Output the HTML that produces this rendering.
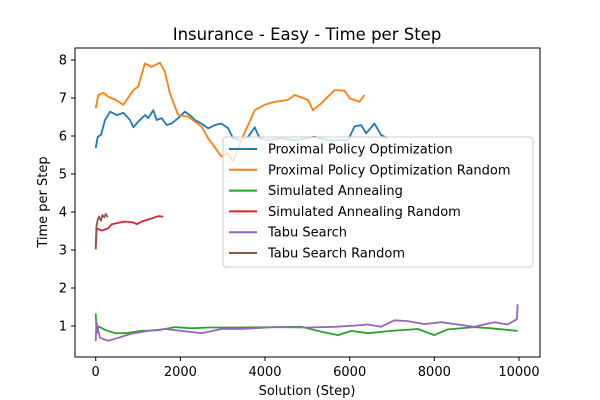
<!DOCTYPE html>
<html><head><meta charset="utf-8"><style>
body{margin:0;background:#fff}
svg{display:block;font-family:"DejaVu Sans","Liberation Sans",sans-serif}
</style></head><body>
<svg id="chart" width="600" height="400">
<rect width="600" height="400" fill="#fff"/>
<text x="307" y="40" font-size="16.5" text-anchor="middle">Insurance - Easy - Time per Step</text>
<g id="series"></g>
<rect x="75" y="48" width="465" height="309" fill="none" stroke="#000" stroke-width="1"/>
<g id="axes" font-size="13"></g>
<text x="307" y="395" font-size="13" text-anchor="middle">Solution (Step)</text>
<text x="0" y="0" font-size="13" text-anchor="middle" transform="translate(47,202) rotate(-90)">Time per Step</text>
<g id="legend" font-size="13"></g>
</svg>
<script>
const xTicks=[0,2000,4000,6000,8000,10000];
const yTicks=[1,2,3,4,5,6,7,8];
const seriesNames=["Proximal Policy Optimization","Proximal Policy Optimization Random","Simulated Annealing","Simulated Annealing Random","Tabu Search","Tabu Search Random"];
const colors=["#1f77b4","#ff7f0e","#2ca02c","#d62728","#9467bd","#8c564b"];
const ppoX=[0,47,126,220,338,495,652,810,890,1005,1163,1242,1360,1438,1556,1674,1792,1950,2107,2225,2343,2500,2657,2815,2970,3130,3245,3440,3600,3757,3875,4070,4385,4700,5170,5490,5960,6115,6270,6390,6585,6740,6900];
const ppoY=[5.68,5.98,6.03,6.42,6.64,6.55,6.61,6.42,6.23,6.38,6.55,6.47,6.68,6.42,6.47,6.29,6.33,6.47,6.64,6.55,6.42,6.33,6.20,6.29,6.33,6.20,5.94,5.89,5.98,6.23,5.94,5.89,5.94,5.89,5.98,5.89,5.89,6.25,6.29,6.07,6.33,6.03,5.94];
const ppoRX=[0,63,180,300,455,652,890,1005,1163,1320,1516,1634,1752,1950,2185,2500,2657,2970,3130,3245,3440,3757,3990,4230,4540,4700,5015,5130,5330,5645,5880,6000,6115,6230,6350];
const ppoRY=[6.73,7.08,7.14,7.03,6.96,6.82,7.21,7.30,7.91,7.82,7.93,7.69,7.12,6.55,6.51,6.25,5.94,5.46,5.54,5.32,5.89,6.68,6.82,6.90,6.95,7.08,6.95,6.68,6.86,7.21,7.19,6.99,6.95,6.90,7.08];
const saX=[0,24,63,220,455,690,1085,1477,1870,2264,2657,3440,4230,4860,5330,5725,6040,6430,6980,7610,8000,8315,8945,9340,9970];
const saY=[1.33,0.81,0.99,0.90,0.81,0.81,0.87,0.89,0.97,0.94,0.96,0.96,0.97,0.98,0.85,0.76,0.87,0.81,0.87,0.92,0.76,0.91,0.97,0.94,0.87];
const saRX=[0,24,141,298,377,690,890,970,1085,1320,1477,1595];
const saRY=[3.02,3.57,3.51,3.57,3.68,3.75,3.72,3.68,3.75,3.83,3.89,3.88];
const tsX=[0,16,102,298,534,848,1242,1634,2027,2500,2970,3440,4230,5015,5645,6115,6430,6740,7060,7370,7765,8160,8550,8945,9420,9730,9950,9970];
const tsY=[0.60,1.10,0.69,0.61,0.69,0.80,0.87,0.92,0.87,0.81,0.92,0.92,0.97,0.96,0.98,1.01,1.04,0.98,1.15,1.13,1.05,1.10,1.04,0.98,1.10,1.04,1.18,1.57];
const tsRX=[0,16,47,79,126,157,204,236,283];
const tsRY=[3.02,3.61,3.79,3.88,3.77,3.92,3.86,3.95,3.86];
const NS="http://www.w3.org/2000/svg";
const sx=v=>95.7+v*0.04233;
const sy=v=>326-(v-1)*38;
const seriesG=document.getElementById('series');
const data=[[ppoX,ppoY],[ppoRX,ppoRY],[saX,saY],[saRX,saRY],[tsX,tsY],[tsRX,tsRY]];
const names=["ppo-line","ppo-random-line","sa-line","sa-random-line","tabu-line","tabu-random-line"];
data.forEach((d,i)=>{
  const p=document.createElementNS(NS,'polyline');
  p.setAttribute('points',d[0].map((x,j)=>sx(x).toFixed(1)+','+sy(d[1][j]).toFixed(1)).join(' '));
  p.setAttribute('fill','none');p.setAttribute('stroke',colors[i]);p.setAttribute('stroke-width','1.8');
  p.setAttribute('stroke-linejoin','round');
  
  
  seriesG.appendChild(p);
});
const axes=document.getElementById('axes');
xTicks.forEach(t=>{
  const g=document.createElementNS(NS,'g');
  
  
  g.innerHTML=`<line x1="${sx(t)}" x2="${sx(t)}" y1="357" y2="361" stroke="#000"/><text x="${sx(t)}" y="376" text-anchor="middle">${t}</text>`;
  axes.appendChild(g);
});
yTicks.forEach(t=>{
  const g=document.createElementNS(NS,'g');
  
  
  g.innerHTML=`<line x1="71" x2="75" y1="${sy(t)}" y2="${sy(t)}" stroke="#000"/><text x="67" y="${sy(t)+4.5}" text-anchor="end">${t}</text>`;
  axes.appendChild(g);
});
const lg=document.getElementById('legend');
const box=document.createElementNS(NS,'rect');
box.setAttribute('x','223');box.setAttribute('y','137');box.setAttribute('width','310');box.setAttribute('height','130');
box.setAttribute('rx','3');box.setAttribute('fill','#fff');box.setAttribute('fill-opacity','0.8');box.setAttribute('stroke','#ccc');


lg.appendChild(box);
seriesNames.forEach((n,i)=>{
  const y=149+i*20.8;
  const g=document.createElementNS(NS,'g');
  
  
  g.innerHTML=`<line x1="229" x2="257" y1="${y}" y2="${y}" stroke="${colors[i]}" stroke-width="2"/><text x="268" y="${y+4.5}">${n}</text>`;
  lg.appendChild(g);
});
</script>
</body></html>
